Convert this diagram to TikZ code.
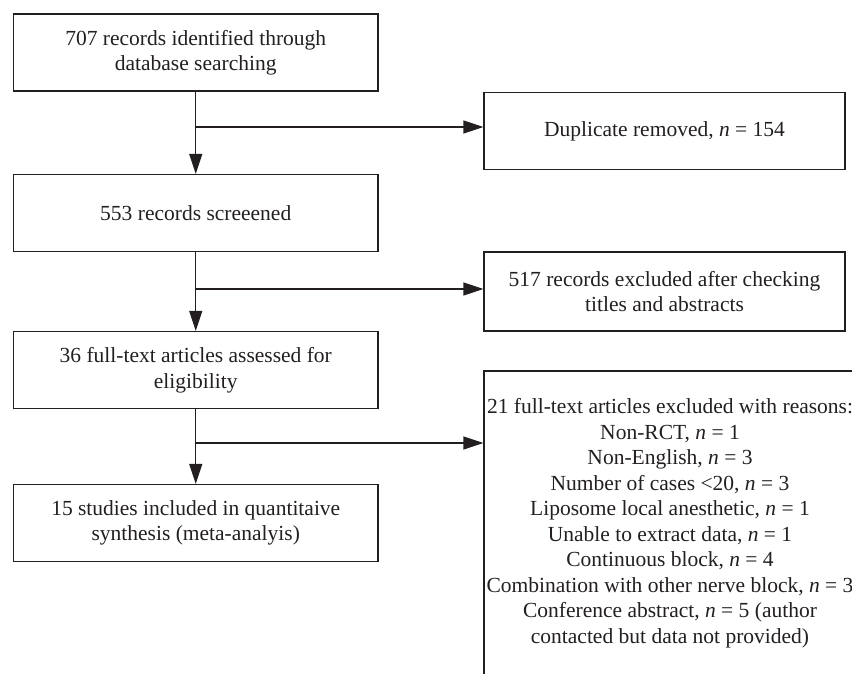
\documentclass[tikz,border=0pt]{standalone}
\usepackage{fontspec}
\setmainfont{Liberation Serif}
\usetikzlibrary{arrows.meta,positioning,calc}
\definecolor{ink}{RGB}{35,31,32}

\begin{document}
\begin{tikzpicture}[
  x=1pt,y=1pt,
  box/.style={draw=ink, line width=1.2pt, align=center, minimum width=364.5pt, minimum height=77pt, font=\fontsize{21.5}{25.5}\selectfont, inner sep=0pt, text=ink},
  side/.style={box, minimum width=361pt},
  arr/.style={-{Triangle[length=20pt,width=13pt]}, line width=1.2pt, draw=ink}
]
\useasboundingbox (0,0) rectangle (852,-673);
\clip (0,0) rectangle (852,-673);
\node[box] (ident) at (195.75,-52.5) {707 records identified through\\database searching};
\node[box] (screen) at (195.75,-213) {553 records screeened};
\node[box] (full) at (195.75,-370) {36 full-text articles assessed for\\eligibility};
\node[box] (incl) at (195.75,-523) {15 studies included in quantitaive\\synthesis (meta-analyis)};
\node[side] (dup) at (664.5,-131) {Duplicate removed, \textit{n} = 154};
\node[side, minimum height=79pt] (absx) at (664.5,-291.5) {517 records excluded after checking\\titles and abstracts};
\node[box, minimum width=372pt, minimum height=304pt] (fullx) at (670,-523) {21 full-text articles excluded with reasons:\\Non-RCT, \textit{n} = 1\\Non-English, \textit{n} = 3\\Number of cases <20, \textit{n} = 3\\Liposome local anesthetic, \textit{n} = 1\\Unable to extract data, \textit{n} = 1\\Continuous block, \textit{n} = 4\\Combination with other nerve block, \textit{n} = 3\\Conference abstract, \textit{n} = 5 (author\\contacted but data not provided)};
\coordinate (j1) at (195.75,-127);
\coordinate (j2) at (195.75,-289);
\coordinate (j3) at (195.75,-443);
\draw[arr] (ident) -- (screen); \draw[arr] (screen) -- (full); \draw[arr] (full) -- (incl);
\draw[arr] (j1) -- (j1 -| dup.west); \draw[arr] (j2) -- (j2 -| absx.west); \draw[arr] (j3) -- (j3 -| fullx.west);
\end{tikzpicture}
\end{document}
